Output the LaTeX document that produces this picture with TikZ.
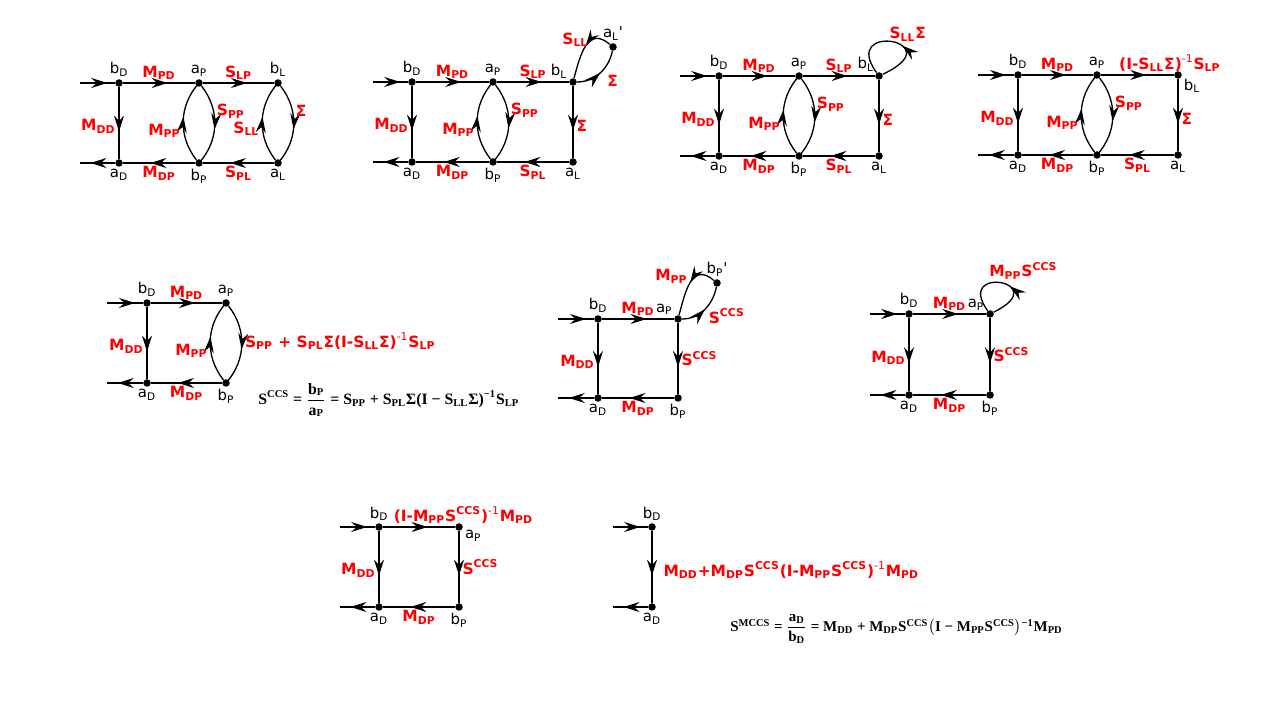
\documentclass[tikz,border=0pt]{standalone}
\usepackage{amsmath}
\usepackage{fontspec}
\newfontfamily\diagfont{DejaVu Sans}
\newfontfamily\eqfont{Liberation Serif}
\usepackage{tikz}
\usetikzlibrary{arrows.meta,decorations.markings}
\definecolor{termred}{RGB}{255,0,0}
\newcommand{\eqfrac}[2]{$\displaystyle\frac{\mbox{#1}}{\mbox{#2}}$}

\begin{document}
\begin{tikzpicture}[x=0.2mm, y=0.2mm,
  dot/.style={circle, fill, inner sep=0pt, minimum size=1.5mm},
  nlab/.style={font=\diagfont\fontsize{8.5}{9}\selectfont, inner sep=1pt},
  term/.style={font=\diagfont\bfseries\fontsize{8.8}{10}\selectfont, text=termred, inner sep=1.5pt},
  eqn/.style={font=\eqfont\bfseries\fontsize{9}{10}\selectfont, inner sep=0pt},
  wire/.style={line width=1pt},
  bow/.style={line width=0.75pt},
  midarrow/.style={postaction={decorate}, decoration={markings, mark=at position #1 with {\arrow{Stealth[length=3.2mm, width=2mm, inset=1.1mm]}}}},
  midarrow/.default=0.62]
  \fill[white] (0,0) rectangle (1280,720);
  \useasboundingbox (0,0) rectangle (1280,720);

  % full network with load loop
  \begin{scope}[shift={(119,637)}, name prefix=g1-]
    \node[dot, label={[nlab]above:b\textsubscript{D}}] (bD) at (0,0) {};
    \node[dot, label={[nlab]above:a\textsubscript{P}}] (aP) at (80,0) {};
    \node[dot, label={[nlab]above:b\textsubscript{L}}] (bL) at (159,0) {};
    \node[dot, label={[nlab]below:a\textsubscript{D}}] (aD) at (0,-80) {};
    \node[dot, label={[nlab]below:b\textsubscript{P}}] (bP) at (80,-80) {};
    \node[dot, label={[nlab]below:a\textsubscript{L}}] (aL) at (159,-80) {};
    \coordinate (src) at (-39,0);
    \coordinate (snk) at (-39,-80);
    \draw[wire, midarrow=0.78] (src) -- (bD);
    \draw[wire, midarrow=0.7] (aD) -- (snk);
    \draw[wire, midarrow] (bD) -- node[term, above] {M\textsubscript{PD}} (aP);
    \draw[wire, midarrow] (aP) -- node[term, above] {S\textsubscript{LP}} (bL);
    \draw[wire, midarrow] (bD) -- node[term, left, pos=0.55] {M\textsubscript{DD}} (aD);
    \draw[wire, midarrow] (bP) -- node[term, below] {M\textsubscript{DP}} (aD);
    \draw[wire, midarrow] (aL) -- node[term, below] {S\textsubscript{PL}} (bP);
    \draw[bow, midarrow=0.55] (aP) to[bend left=40] node[term, right, pos=0.33] {S\textsubscript{PP}} (bP);
    \draw[bow, midarrow=0.55] (bP) to[bend left=40] node[term, left, pos=0.38] {M\textsubscript{PP}} (aP);
    \draw[bow, midarrow=0.55] (bL) to[bend left=40] node[term, right, pos=0.33] {Σ} (aL);
    \draw[bow, midarrow=0.55] (aL) to[bend left=40] node[term, left, pos=0.4] {S\textsubscript{LL}} (bL);
  \end{scope}

  % split node a_L'
  \begin{scope}[shift={(412,638)}, name prefix=g2-]
    \node[dot, label={[nlab]above:b\textsubscript{D}}] (bD) at (0,0) {};
    \node[dot, label={[nlab]above:a\textsubscript{P}}] (aP) at (81,0) {};
    \node[dot, label={[nlab]155:b\textsubscript{L}}] (bL) at (161,0) {};
    \node[dot, label={[nlab]above:a\textsubscript{L}'}] (aLx) at (201,35) {};
    \node[dot, label={[nlab]below:a\textsubscript{D}}] (aD) at (0,-80) {};
    \node[dot, label={[nlab]below:b\textsubscript{P}}] (bP) at (81,-80) {};
    \node[dot, label={[nlab]below:a\textsubscript{L}}] (aL) at (161,-80) {};
    \coordinate (src) at (-39,0);
    \coordinate (snk) at (-39,-80);
    \draw[wire, midarrow=0.78] (src) -- (bD);
    \draw[wire, midarrow=0.7] (aD) -- (snk);
    \draw[wire, midarrow] (bD) -- node[term, above] {M\textsubscript{PD}} (aP);
    \draw[wire, midarrow] (aP) -- node[term, above] {S\textsubscript{LP}} (bL);
    \draw[wire, midarrow] (bD) -- node[term, left, pos=0.55] {M\textsubscript{DD}} (aD);
    \draw[wire, midarrow] (bL) -- node[term, right, pos=0.55] {Σ} (aL);
    \draw[wire, midarrow] (bP) -- node[term, below] {M\textsubscript{DP}} (aD);
    \draw[wire, midarrow] (aL) -- node[term, below] {S\textsubscript{PL}} (bP);
    \draw[bow, midarrow=0.55] (aP) to[bend left=40] node[term, right, pos=0.33] {S\textsubscript{PP}} (bP);
    \draw[bow, midarrow=0.55] (bP) to[bend left=40] node[term, left, pos=0.38] {M\textsubscript{PP}} (aP);
    \draw[bow, midarrow=0.5] (bL) to[out=0, in=-100] node[term, right, pos=0.5, xshift=0.6mm, yshift=-1.8mm] {Σ} (aLx);
    \draw[bow, midarrow=0.45] (aLx) to[out=140, in=75, looseness=1.4] node[term, left, pos=0.35] {S\textsubscript{LL}} (bL);
  \end{scope}

  % self loop at b_L
  \begin{scope}[shift={(719,644)}, name prefix=g3-]
    \node[dot, label={[nlab]above:b\textsubscript{D}}] (bD) at (0,0) {};
    \node[dot, label={[nlab]above:a\textsubscript{P}}] (aP) at (80,0) {};
    \node[dot, label={[nlab]140:b\textsubscript{L}}] (bL) at (160,0) {};
    \node[dot, label={[nlab]below:a\textsubscript{D}}] (aD) at (0,-80) {};
    \node[dot, label={[nlab]below:b\textsubscript{P}}] (bP) at (80,-80) {};
    \node[dot, label={[nlab]below:a\textsubscript{L}}] (aL) at (160,-80) {};
    \coordinate (src) at (-39,0);
    \coordinate (snk) at (-39,-80);
    \draw[wire, midarrow=0.78] (src) -- (bD);
    \draw[wire, midarrow=0.7] (aD) -- (snk);
    \draw[wire, midarrow] (bD) -- node[term, above] {M\textsubscript{PD}} (aP);
    \draw[wire, midarrow] (aP) -- node[term, above] {S\textsubscript{LP}} (bL);
    \draw[wire, midarrow] (bD) -- node[term, left, pos=0.55] {M\textsubscript{DD}} (aD);
    \draw[wire, midarrow] (bL) -- node[term, right, pos=0.55] {Σ} (aL);
    \draw[wire, midarrow] (bP) -- node[term, below] {M\textsubscript{DP}} (aD);
    \draw[wire, midarrow] (aL) -- node[term, below] {S\textsubscript{PL}} (bP);
    \draw[bow, midarrow=0.55] (aP) to[bend left=40] node[term, right, pos=0.33] {S\textsubscript{PP}} (bP);
    \draw[bow, midarrow=0.55] (bP) to[bend left=40] node[term, left, pos=0.38] {M\textsubscript{PP}} (aP);
    \draw[bow, midarrow=0.4] (bL) .. controls +(75,35) and +(-40,55) .. node[term, pos=0.5, anchor=south west, xshift=-1.2mm, yshift=-0.6mm] {S\textsubscript{LL}Σ} (bL);
  \end{scope}

  % loop folded into the edge
  \begin{scope}[shift={(1018,645)}, name prefix=g4-]
    \node[dot, label={[nlab]above:b\textsubscript{D}}] (bD) at (0,0) {};
    \node[dot, label={[nlab]above:a\textsubscript{P}}] (aP) at (79,0) {};
    \node[dot, label={[nlab]-25:b\textsubscript{L}}] (bL) at (160,0) {};
    \node[dot, label={[nlab]below:a\textsubscript{D}}] (aD) at (0,-80) {};
    \node[dot, label={[nlab]below:b\textsubscript{P}}] (bP) at (79,-80) {};
    \node[dot, label={[nlab]below:a\textsubscript{L}}] (aL) at (160,-80) {};
    \coordinate (src) at (-40,0);
    \coordinate (snk) at (-40,-80);
    \draw[wire, midarrow=0.78] (src) -- (bD);
    \draw[wire, midarrow=0.7] (aD) -- (snk);
    \draw[wire, midarrow] (bD) -- node[term, above] {M\textsubscript{PD}} (aP);
    \draw[wire, midarrow] (aP) -- node[term, pos=0.2, anchor=south west] {(I-S\textsubscript{LL}Σ)\textsuperscript{\mdseries -1}S\textsubscript{LP}} (bL);
    \draw[wire, midarrow] (bD) -- node[term, left, pos=0.55] {M\textsubscript{DD}} (aD);
    \draw[wire, midarrow] (bL) -- node[term, right, pos=0.55] {Σ} (aL);
    \draw[wire, midarrow] (bP) -- node[term, below] {M\textsubscript{DP}} (aD);
    \draw[wire, midarrow] (aL) -- node[term, below] {S\textsubscript{PL}} (bP);
    \draw[bow, midarrow=0.55] (aP) to[bend left=40] node[term, right, pos=0.33] {S\textsubscript{PP}} (bP);
    \draw[bow, midarrow=0.55] (bP) to[bend left=40] node[term, left, pos=0.38] {M\textsubscript{PP}} (aP);
  \end{scope}

  % reduced to S^CCS
  \begin{scope}[shift={(147,417)}, name prefix=g5-]
    \node[dot, label={[nlab]above:b\textsubscript{D}}] (bD) at (0,0) {};
    \node[dot, label={[nlab]above:a\textsubscript{P}}] (aP) at (79,0) {};
    \node[dot, label={[nlab]below:a\textsubscript{D}}] (aD) at (0,-80) {};
    \node[dot, label={[nlab]below:b\textsubscript{P}}] (bP) at (79,-80) {};
    \coordinate (src) at (-40,0);
    \coordinate (snk) at (-40,-80);
    \draw[wire, midarrow=0.78] (src) -- (bD);
    \draw[wire, midarrow=0.7] (aD) -- (snk);
    \draw[wire, midarrow] (bD) -- node[term, above] {M\textsubscript{PD}} (aP);
    \draw[wire, midarrow] (bD) -- node[term, left, pos=0.55] {M\textsubscript{DD}} (aD);
    \draw[wire, midarrow] (bP) -- node[term, below] {M\textsubscript{DP}} (aD);
    \draw[bow, midarrow=0.55] (aP) to[bend left=40] node[term, right, pos=0.45] {S\textsubscript{PP} + S\textsubscript{PL}Σ(I-S\textsubscript{LL}Σ)\textsuperscript{\mdseries -1}S\textsubscript{LP}} (bP);
    \draw[bow, midarrow=0.55] (bP) to[bend left=40] node[term, left, pos=0.38] {M\textsubscript{PP}} (aP);
    \node[eqn, anchor=west] (ccs) at (111,-97) {S\textsuperscript{CCS} = \eqfrac{b\textsubscript{P}}{a\textsubscript{P}} = S\textsubscript{PP} + S\textsubscript{PL}Σ(I − S\textsubscript{LL}Σ)\textsuperscript{−1}S\textsubscript{LP}};
  \end{scope}

  % split node b_P'
  \begin{scope}[shift={(598,401)}, name prefix=g6-]
    \node[dot, label={[nlab]above:b\textsubscript{D}}] (bD) at (0,0) {};
    \node[dot, label={[nlab]150:a\textsubscript{P}}] (aP) at (80,0) {};
    \node[dot, label={[nlab]above:b\textsubscript{P}'}] (bPx) at (119,36) {};
    \node[dot, label={[nlab]below:a\textsubscript{D}}] (aD) at (0,-79) {};
    \node[dot, label={[nlab]below:b\textsubscript{P}}] (bP) at (80,-79) {};
    \coordinate (src) at (-40,0);
    \coordinate (snk) at (-40,-79);
    \draw[wire, midarrow=0.78] (src) -- (bD);
    \draw[wire, midarrow=0.7] (aD) -- (snk);
    \draw[wire, midarrow] (bD) -- node[term, above] {M\textsubscript{PD}} (aP);
    \draw[wire, midarrow] (bD) -- node[term, left, pos=0.55] {M\textsubscript{DD}} (aD);
    \draw[wire, midarrow] (aP) -- node[term, right, pos=0.5] {S\textsuperscript{CCS}} (bP);
    \draw[wire, midarrow] (bP) -- node[term, below] {M\textsubscript{DP}} (aD);
    \draw[bow, midarrow=0.5] (aP) to[out=0, in=-100] node[term, right, pos=0.5, yshift=-1.5mm] {S\textsuperscript{CCS}} (bPx);
    \draw[bow, midarrow=0.45] (bPx) to[out=140, in=75, looseness=1.4] node[term, left, pos=0.35, xshift=-1mm] {M\textsubscript{PP}} (aP);
  \end{scope}

  % self loop at a_P
  \begin{scope}[shift={(909,406)}, name prefix=g7-]
    \node[dot, label={[nlab]above:b\textsubscript{D}}] (bD) at (0,0) {};
    \node[dot, label={[nlab]155:a\textsubscript{P}}] (aP) at (81,0) {};
    \node[dot, label={[nlab]below:a\textsubscript{D}}] (aD) at (0,-81) {};
    \node[dot, label={[nlab]below:b\textsubscript{P}}] (bP) at (81,-81) {};
    \coordinate (src) at (-39,0);
    \coordinate (snk) at (-39,-81);
    \draw[wire, midarrow=0.78] (src) -- (bD);
    \draw[wire, midarrow=0.7] (aD) -- (snk);
    \draw[wire, midarrow] (bD) -- node[term, above] {M\textsubscript{PD}} (aP);
    \draw[wire, midarrow] (bD) -- node[term, left, pos=0.55] {M\textsubscript{DD}} (aD);
    \draw[wire, midarrow] (aP) -- node[term, right, pos=0.5] {S\textsuperscript{CCS}} (bP);
    \draw[wire, midarrow] (bP) -- node[term, below] {M\textsubscript{DP}} (aD);
    \draw[bow, midarrow=0.4] (aP) .. controls +(65,32) and +(-36,50) .. node[term, pos=0.5, anchor=south west, xshift=-3mm] {M\textsubscript{PP}S\textsuperscript{CCS}} (aP);
  \end{scope}

  % loop folded into M_PD
  \begin{scope}[shift={(379,193)}, name prefix=g8-]
    \node[dot, label={[nlab]above:b\textsubscript{D}}] (bD) at (0,0) {};
    \node[dot, label={[nlab]-15:a\textsubscript{P}}] (aP) at (80,0) {};
    \node[dot, label={[nlab]below:a\textsubscript{D}}] (aD) at (0,-80) {};
    \node[dot, label={[nlab]below:b\textsubscript{P}}] (bP) at (80,-80) {};
    \coordinate (src) at (-39,0);
    \coordinate (snk) at (-39,-80);
    \draw[wire, midarrow=0.78] (src) -- (bD);
    \draw[wire, midarrow=0.7] (aD) -- (snk);
    \draw[wire, midarrow] (bD) -- node[term, pos=0.1, anchor=south west] {(I-M\textsubscript{PP}S\textsuperscript{CCS})\textsuperscript{\mdseries -1}M\textsubscript{PD}} (aP);
    \draw[wire, midarrow] (bD) -- node[term, left, pos=0.55] {M\textsubscript{DD}} (aD);
    \draw[wire, midarrow] (aP) -- node[term, right, pos=0.5] {S\textsuperscript{CCS}} (bP);
    \draw[wire, midarrow] (bP) -- node[term, below] {M\textsubscript{DP}} (aD);
  \end{scope}

  % one-port result
  \begin{scope}[shift={(652,193)}, name prefix=g9-]
    \node[dot, label={[nlab]above:b\textsubscript{D}}] (bD) at (0,0) {};
    \node[dot, label={[nlab]below:a\textsubscript{D}}] (aD) at (0,-80) {};
    \coordinate (src) at (-39,0);
    \coordinate (snk) at (-39,-80);
    \draw[wire, midarrow=0.78] (src) -- (bD);
    \draw[wire, midarrow=0.7] (aD) -- (snk);
    \draw[wire, midarrow] (bD) -- node[term, pos=0.54, anchor=west, xshift=1.6mm] {M\textsubscript{DD}+M\textsubscript{DP}S\textsuperscript{CCS}(I-M\textsubscript{PP}S\textsuperscript{CCS})\textsuperscript{\mdseries -1}M\textsubscript{PD}} (aD);
    \node[eqn, anchor=west, font=\eqfont\bfseries\fontsize{8.5}{10}\selectfont] (mccs) at (78,-102) {S\textsuperscript{MCCS} = \eqfrac{a\textsubscript{D}}{b\textsubscript{D}} = M\textsubscript{DD} + M\textsubscript{DP}S\textsuperscript{CCS}$\bigl($I − M\textsubscript{PP}S\textsuperscript{CCS}$\bigr)$\textsuperscript{−1}M\textsubscript{PD}};
  \end{scope}
\end{tikzpicture}
\end{document}
